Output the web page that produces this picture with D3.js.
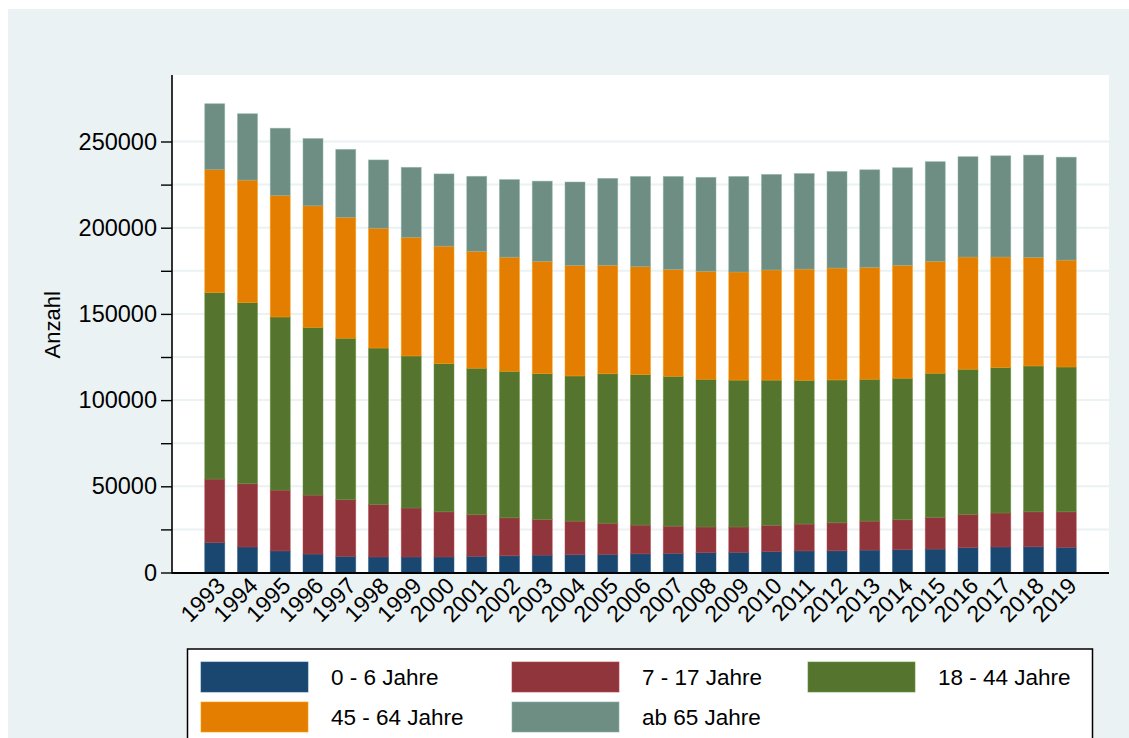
<!DOCTYPE html>
<html>
<head>
<meta charset="utf-8">
<script src="https://cdn.jsdelivr.net/npm/d3@7"></script>
<style>
  html, body { margin: 0; padding: 0; background: #fff; }
  svg { display: block; font-family: "Liberation Sans", Arial, sans-serif; }
</style>
</head>
<body>
<svg id="chart" width="1129" height="738"></svg>
<script>
const years = d3.range(1993, 2020).map(String);
const ageGroups = ["0 - 6 Jahre", "7 - 17 Jahre", "18 - 44 Jahre", "45 - 64 Jahre", "ab 65 Jahre"];
const colors = ["#1a476f", "#90353b", "#55752f", "#e37e00", "#6e8e84"];

const age0to6 = [17300, 14800, 12500, 10700, 9400, 9000, 9000, 9000, 9400, 9700, 10100, 10300, 10500, 10800,
  11100, 11500, 11700, 12100, 12500, 12600, 13000, 13200, 13600, 14400, 14800, 14900, 14600];
const age7to17 = [36900, 36700, 35300, 34200, 32800, 30500, 28400, 26200, 24100, 22000, 20700, 19500, 18100, 16700,
  15800, 14900, 14700, 15300, 15600, 16200, 16800, 17400, 18400, 19300, 19700, 20300, 20600];
const age18to44 = [108200, 105100, 100400, 97300, 93700, 90700, 88200, 86000, 85000, 85000, 84600, 84200, 86700, 87300,
  86900, 85700, 85200, 84200, 83400, 82900, 82300, 82100, 83600, 84200, 84400, 84600, 84000];
const age45to64 = [71300, 71000, 70500, 70500, 70100, 69500, 68800, 68100, 67800, 66200, 65100, 64100, 62900, 62600,
  62000, 62600, 62700, 63900, 64500, 64900, 64900, 65500, 64900, 65100, 64100, 63000, 62000];
const age65plus = [38200, 38500, 39000, 39000, 39400, 39600, 40600, 41900, 43500, 45000, 46500, 48400, 50400, 52300,
  53900, 54500, 55400, 55400, 55400, 56000, 56600, 56600, 57800, 58200, 58700, 59300, 59700];

const yTicks = d3.range(0, 250001, 50000);
const yGrid = d3.range(25000, 250001, 25000);

const svg = d3.select("#chart");
const width = 1129, height = 738;
const plot = { left: 172, right: 1109, top: 75, bottom: 572.5 };
const bg = "#eaf2f3";

// background panel
svg.append("rect").attr("x", 8).attr("y", 9).attr("width", width - 8).attr("height", height - 9).attr("fill", bg);
svg.append("rect")
  .attr("x", plot.left).attr("y", plot.top)
  .attr("width", plot.right - plot.left).attr("height", plot.bottom - plot.top)
  .attr("fill", "#fff");

const series = [age0to6, age7to17, age18to44, age45to64, age65plus];
const table = years.map((yr, i) => {
  const row = { year: yr };
  ageGroups.forEach((g, k) => { row[g] = series[k][i]; });
  return row;
});
const stacked = d3.stack().keys(ageGroups)(table);

const x = d3.scaleBand()
  .domain(years)
  .range([plot.left, plot.right])
  .paddingInner(0.39)
  .paddingOuter(1)
  .align(0.5);

const y = d3.scaleLinear()
  .domain([0, 250000])
  .range([plot.bottom, 141.5]);

// gridlines
svg.append("g")
  .selectAll("line")
  .data(yGrid)
  .join("line")
  .attr("x1", plot.left).attr("x2", plot.right)
  .attr("y1", d => y(d)).attr("y2", d => y(d))
  .attr("stroke", bg).attr("stroke-width", 2);

// bars
svg.append("g")
  .selectAll("g")
  .data(stacked)
  .join("g")
  .attr("fill", (d, i) => colors[i])
  .attr("stroke", (d, i) => d3.color(colors[i]).brighter(0.6))
  .attr("stroke-opacity", 0.6)
  .attr("stroke-width", 0.8)
  .selectAll("rect")
  .data(d => d)
  .join("rect")
  .attr("x", d => x(d.data.year))
  .attr("width", x.bandwidth())
  .attr("y", d => y(d[1]))
  .attr("height", d => y(d[0]) - y(d[1]));

// y axis
const yAxis = svg.append("g")
  .attr("transform", `translate(${plot.left},0)`)
  .call(d3.axisLeft(y).tickValues(d3.range(0, 250001, 25000)).tickSize(11)
    .tickFormat(d => (yTicks.includes(d) ? d : "")));
yAxis.select(".domain").remove();
yAxis.selectAll(".tick line").attr("stroke", "#000").attr("stroke-width", 1.4);
yAxis.selectAll(".tick text")
  .attr("x", -15)
  .attr("font-size", 23.5)
  .attr("font-family", "Liberation Sans, Arial, sans-serif")
  .attr("fill", "#000");

svg.append("line")
  .attr("x1", plot.left).attr("x2", plot.left)
  .attr("y1", plot.top).attr("y2", plot.bottom + 1)
  .attr("stroke", "#000").attr("stroke-width", 1.6);

// x axis
svg.append("line")
  .attr("x1", plot.left).attr("x2", plot.right)
  .attr("y1", plot.bottom + 0.5).attr("y2", plot.bottom + 0.5)
  .attr("stroke", "#000").attr("stroke-width", 1.8);

svg.append("g")
  .selectAll("text")
  .data(years)
  .join("text")
  .attr("transform", d => `translate(${x(d) + x.bandwidth() / 2 + 6},${plot.bottom + 9}) rotate(-45)`)
  .attr("text-anchor", "end")
  .attr("dy", "0.35em")
  .attr("font-size", 23)
  .text(d => d);

// y title
svg.append("text")
  .attr("transform", `translate(60,${(plot.top + plot.bottom) / 2 + 1}) rotate(-90)`)
  .attr("text-anchor", "middle")
  .attr("font-size", 22)
  .text("Anzahl");

// legend
const legend = svg.append("g");
legend.append("rect")
  .attr("x", 187.5).attr("y", 649)
  .attr("width", 905).attr("height", 110)
  .attr("fill", "#fff").attr("stroke", "#000").attr("stroke-width", 1.5);

const colX = [201, 512, 808];
const item = legend.selectAll("g.item")
  .data(ageGroups)
  .join("g")
  .attr("class", "item")
  .attr("transform", (d, i) => `translate(${colX[i % 3]},${662 + Math.floor(i / 3) * 40})`);
item.append("rect")
  .attr("width", 107).attr("height", 30)
  .attr("fill", (d, i) => colors[i])
  .attr("stroke", (d, i) => d3.color(colors[i]).brighter(0.6))
  .attr("stroke-opacity", 0.6);
item.append("text")
  .attr("x", 130).attr("y", 23)
  .attr("font-size", 22.5)
  .text(d => d);
</script>
</body>
</html>
